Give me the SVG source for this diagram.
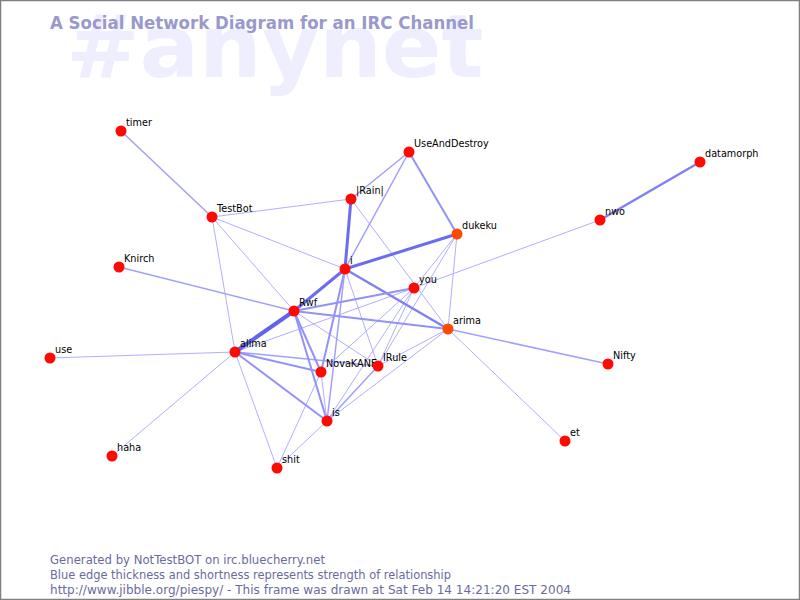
<svg xmlns="http://www.w3.org/2000/svg" width="800" height="600" viewBox="0 0 800 600">
<style>
.bg{font-family:"DejaVu Sans",sans-serif;font-weight:bold;font-size:88px;fill:#eeeeff}
.title{font-family:"DejaVu Sans",sans-serif;font-weight:bold;font-size:17.5px;fill:#9999cc}
.foot{font-family:"DejaVu Sans",sans-serif;font-size:11.5px;fill:#6a6aa0}
.lbl{font-family:"DejaVu Sans",sans-serif;font-size:9.7px;fill:#000}
.n{fill:#ff0a00}
.o{fill:#ff4a00}
line{stroke-linecap:round}
.e1{stroke:#b0b0ff;stroke-width:1}
.e2{stroke:#a0a0ff;stroke-width:1.5}
.e3{stroke:#9292f8;stroke-width:2}
.e4{stroke:#8080f2;stroke-width:2.5}
.e5{stroke:#6c6cee;stroke-width:3}
.e6{stroke:#6464ea;stroke-width:4}
</style>
<rect x="0" y="0" width="800" height="600" fill="#ffffff"/>
<rect x="0.5" y="0.5" width="799" height="599" fill="none" stroke="#808080" stroke-width="1.5"/>
<text class="bg" x="66" y="77">#anynet</text>
<text class="title" x="50" y="29" textLength="424" lengthAdjust="spacingAndGlyphs">A Social Network Diagram for an IRC Channel</text>
<g id="connectors">
<line class="e2" x1="121" y1="131" x2="212" y2="217"/>
<line class="e1" x1="212" y1="217" x2="351" y2="199"/>
<line class="e1" x1="212" y1="217" x2="345" y2="269"/>
<line class="e1" x1="212" y1="217" x2="294" y2="311"/>
<line class="e1" x1="212" y1="217" x2="235" y2="352"/>
<line class="e2" x1="351" y1="199" x2="409" y2="152"/>
<line class="e1" x1="351" y1="199" x2="448" y2="329"/>
<line class="e2" x1="409" y1="152" x2="345" y2="269"/>
<line class="e3" x1="409" y1="152" x2="457" y2="234"/>
<line class="e1" x1="457" y1="234" x2="378" y2="366"/>
<line class="e1" x1="457" y1="234" x2="448" y2="329"/>
<line class="e1" x1="457" y1="234" x2="414" y2="288"/>
<line class="e1" x1="414" y1="288" x2="600" y2="220"/>
<line class="e4" x1="600" y1="220" x2="700" y2="162"/>
<line class="e2" x1="448" y1="329" x2="608" y2="364"/>
<line class="e1" x1="448" y1="329" x2="565" y2="441"/>
<line class="e1" x1="448" y1="329" x2="378" y2="366"/>
<line class="e1" x1="448" y1="329" x2="327" y2="421"/>
<line class="e2" x1="119" y1="267" x2="294" y2="311"/>
<line class="e1" x1="50" y1="358" x2="235" y2="352"/>
<line class="e1" x1="112" y1="456" x2="235" y2="352"/>
<line class="e1" x1="277" y1="468" x2="235" y2="352"/>
<line class="e1" x1="277" y1="468" x2="327" y2="421"/>
<line class="e1" x1="277" y1="468" x2="321" y2="372"/>
<line class="e1" x1="235" y1="352" x2="414" y2="288"/>
<line class="e2" x1="235" y1="352" x2="378" y2="366"/>
<line class="e1" x1="294" y1="311" x2="378" y2="366"/>
<line class="e1" x1="345" y1="269" x2="378" y2="366"/>
<line class="e1" x1="414" y1="288" x2="321" y2="372"/>
<line class="e1" x1="414" y1="288" x2="378" y2="366"/>
<line class="e1" x1="414" y1="288" x2="327" y2="421"/>
<line class="e1" x1="321" y1="372" x2="327" y2="421"/>
<line class="e2" x1="378" y1="366" x2="327" y2="421"/>
<line class="e4" x1="345" y1="269" x2="448" y2="329"/>
<line class="e3" x1="345" y1="269" x2="321" y2="372"/>
<line class="e2" x1="345" y1="269" x2="327" y2="421"/>
<line class="e3" x1="294" y1="311" x2="414" y2="288"/>
<line class="e3" x1="294" y1="311" x2="448" y2="329"/>
<line class="e3" x1="294" y1="311" x2="321" y2="372"/>
<line class="e3" x1="294" y1="311" x2="327" y2="421"/>
<line class="e3" x1="235" y1="352" x2="321" y2="372"/>
<line class="e3" x1="235" y1="352" x2="327" y2="421"/>
<line class="e5" x1="345" y1="269" x2="351" y2="199"/>
<line class="e5" x1="345" y1="269" x2="457" y2="234"/>
<line class="e5" x1="345" y1="269" x2="294" y2="311"/>
<line class="e6" x1="294" y1="311" x2="235" y2="352"/>
</g>
<g id="node-timer"><circle class="n" cx="121" cy="131" r="5.5"/><text class="lbl" x="126" y="126">timer</text></g>
<g id="node-TestBot"><circle class="n" cx="212" cy="217" r="5.5"/><text class="lbl" x="217" y="212">TestBot</text></g>
<g id="node-Rain"><circle class="n" cx="351" cy="199" r="5.5"/><text class="lbl" x="356" y="194">|Rain|</text></g>
<g id="node-UseAndDestroy"><circle class="n" cx="409" cy="152" r="5.5"/><text class="lbl" x="414" y="147">UseAndDestroy</text></g>
<g id="node-dukeku"><circle class="o" cx="457" cy="234" r="5.5"/><text class="lbl" x="462" y="229">dukeku</text></g>
<g id="node-i"><circle class="n" cx="345" cy="269" r="5.5"/><text class="lbl" x="350" y="264">i</text></g>
<g id="node-you"><circle class="n" cx="414" cy="288" r="5.5"/><text class="lbl" x="419" y="283">you</text></g>
<g id="node-Rwf"><circle class="n" cx="294" cy="311" r="5.5"/><text class="lbl" x="299" y="306">Rwf</text></g>
<g id="node-arima"><circle class="o" cx="448" cy="329" r="5.5"/><text class="lbl" x="453" y="324">arima</text></g>
<g id="node-alima"><circle class="n" cx="235" cy="352" r="5.5"/><text class="lbl" x="240" y="347">alima</text></g>
<g id="node-NovaKANE"><circle class="n" cx="321" cy="372" r="5.5"/><text class="lbl" x="326" y="367">NovaKANE</text></g>
<g id="node-IRule"><circle class="n" cx="378" cy="366" r="5.5"/><text class="lbl" x="383" y="361">IRule</text></g>
<g id="node-is"><circle class="n" cx="327" cy="421" r="5.5"/><text class="lbl" x="332" y="416">is</text></g>
<g id="node-shit"><circle class="n" cx="277" cy="468" r="5.5"/><text class="lbl" x="282" y="463">shit</text></g>
<g id="node-Knirch"><circle class="n" cx="119" cy="267" r="5.5"/><text class="lbl" x="124" y="262">Knirch</text></g>
<g id="node-use"><circle class="n" cx="50" cy="358" r="5.5"/><text class="lbl" x="55" y="353">use</text></g>
<g id="node-haha"><circle class="n" cx="112" cy="456" r="5.5"/><text class="lbl" x="117" y="451">haha</text></g>
<g id="node-datamorph"><circle class="n" cx="700" cy="162" r="5.5"/><text class="lbl" x="705" y="157">datamorph</text></g>
<g id="node-nwo"><circle class="n" cx="600" cy="220" r="5.5"/><text class="lbl" x="605" y="215">nwo</text></g>
<g id="node-Nifty"><circle class="n" cx="608" cy="364" r="5.5"/><text class="lbl" x="613" y="359">Nifty</text></g>
<g id="node-et"><circle class="n" cx="565" cy="441" r="5.5"/><text class="lbl" x="570" y="436">et</text></g>
<text class="foot" x="50" y="564" textLength="275" lengthAdjust="spacingAndGlyphs">Generated by NotTestBOT on irc.bluecherry.net</text>
<text class="foot" x="50" y="579" textLength="401" lengthAdjust="spacingAndGlyphs">Blue edge thickness and shortness represents strength of relationship</text>
<text class="foot" x="50" y="594" textLength="521" lengthAdjust="spacingAndGlyphs">http://www.jibble.org/piespy/ - This frame was drawn at Sat Feb 14 14:21:20 EST 2004</text>
</svg>
